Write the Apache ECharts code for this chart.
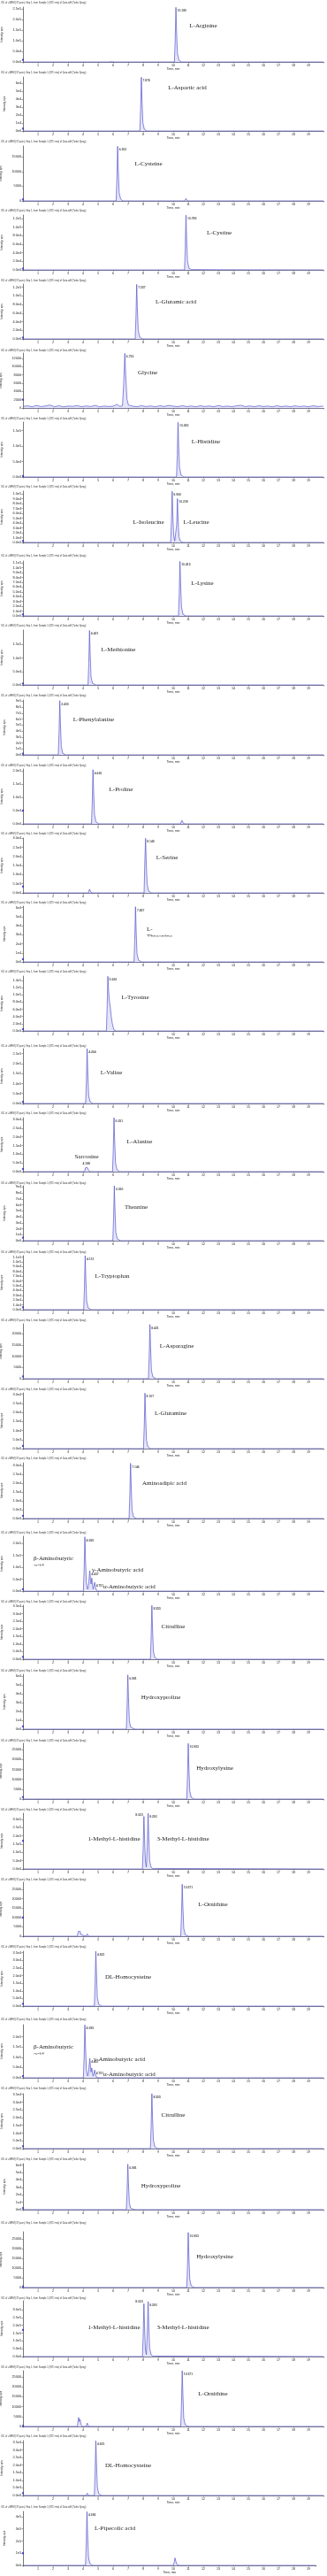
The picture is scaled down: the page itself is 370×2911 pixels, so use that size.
<!DOCTYPE html>
<html>
<head>
<meta charset="utf-8">
<script src="https://cdn.jsdelivr.net/npm/echarts@6/dist/echarts.min.js"></script>
<style>
html, body { margin: 0; padding: 0; background: #fff; }
#chart { width: 370px; height: 2911px; }
</style>
</head>
<body>
<div id="chart"></div>
<script>
// traces: [time (min), intensity (cps)]
const tr01 = [[0,0],[5.7,0],[5.9,1500],[6.1,0],[10.08,0],[10.13,1.0e5],[10.18,2.57e5],[10.22,1.5e5],[10.28,4.0e4],[10.38,8000],[10.55,0],[20,0]];
const tr02 = [[0,0],[7.78,0],[7.83,2.7e4],[7.88,6.75e4],[7.92,4.0e4],[7.98,1.0e4],[8.08,2000],[8.25,0],[20,0]];
const tr03 = [[0,0],[6.2,0],[6.25,7500],[6.3,18600],[6.34,11000],[6.4,2800],[6.5,600],[6.65,0],[10.75,0],[10.85,800],[10.95,0],[20,0]];
const tr04 = [[0,0],[10.75,0],[10.8,5.0e4],[10.85,1.28e5],[10.89,7.5e4],[10.95,2.0e4],[11.05,4000],[11.2,800],[13,300],[20,0]];
const tr05 = [[0,0],[7.47,0],[7.52,5.0e4],[7.57,1.265e5],[7.61,7.5e4],[7.67,2.0e4],[7.77,4000],[7.95,0],[20,0]];
const tr06 = [[0,350],[0.3,520],[0.6,280],[0.9,600],[1.2,330],[1.5,480],[1.8,700],[2.1,300],[2.4,520],[2.7,260],[3.0,450],[3.3,380],[3.6,560],[3.9,300],[4.2,480],[4.5,330],[4.8,600],[5.1,280],[5.4,450],[5.7,350],[6.0,420],[6.26,860],[6.45,380],[6.62,500],[6.7,5500],[6.78,13200],[6.84,7800],[6.92,2200],[7.02,700],[7.3,420],[7.6,300],[7.9,550],[8.2,330],[8.5,480],[8.8,280],[9.1,520],[9.4,350],[9.7,600],[10.0,420],[10.3,300],[10.6,540],[10.9,330],[11.2,460],[11.5,280],[11.8,520],[12.1,350],[12.4,470],[12.7,300],[13.0,560],[13.3,330],[13.6,450],[13.9,290],[14.2,500],[14.5,640],[14.8,320],[15.1,480],[15.4,300],[15.7,520],[16.0,350],[16.3,440],[16.6,280],[16.9,530],[17.2,320],[17.5,460],[17.8,300],[18.1,500],[18.4,340],[18.7,450],[19.0,290],[19.3,520],[19.6,350],[20,400]];
const tr07 = [[0,0],[10.22,0],[10.27,7.0e4],[10.32,1.77e5],[10.36,1.05e5],[10.42,3.0e4],[10.52,6000],[10.7,0],[20,0]];
const tr08 = [[0,0],[9.83,0],[9.88,4.2e4],[9.93,1.05e5],[9.97,6.0e4],[10.03,1.5e4],[10.1,3000],[10.18,2000],[10.23,3.6e4],[10.28,9.0e4],[10.32,5.0e4],[10.38,1.2e4],[10.48,2500],[10.65,0],[20,0]];
const tr09 = [[0,0],[10.35,0],[10.4,4.5e4],[10.45,1.136e5],[10.49,6.8e4],[10.55,1.8e4],[10.65,3500],[10.85,0],[20,0]];
const tr10 = [[0,0],[4.33,0],[4.38,8.0e4],[4.43,2.02e5],[4.47,1.2e5],[4.53,3.0e4],[4.63,6000],[4.85,0],[20,0]];
const tr11 = [[0,0],[2.35,0],[2.4,3.6e5],[2.45,9.1e5],[2.49,5.5e5],[2.55,1.4e5],[2.65,2.5e4],[2.85,0],[20,0]];
const tr12 = [[0,0],[4.56,0],[4.61,8.0e4],[4.66,2.04e5],[4.7,1.25e5],[4.76,3.5e4],[4.86,7000],[5.05,0],[7.05,0],[7.15,1500],[7.25,0],[10.48,0],[10.58,1.3e4],[10.68,2000],[10.8,0],[20,0]];
const tr13 = [[0,0],[3.9,0],[3.95,400],[4.0,0],[4.35,0],[4.43,2000],[4.53,300],[4.65,0],[8.06,0],[8.11,1.7e4],[8.16,3.0e4],[8.2,1.8e4],[8.26,5000],[8.36,1000],[8.55,0],[20,0]];
const tr14 = [[0,0],[7.39,0],[7.44,2.4e4],[7.49,6.1e4],[7.53,3.6e4],[7.59,9000],[7.69,1800],[7.9,0],[20,0]];
const tr15 = [[0,0],[5.55,0],[5.6,6.0e4],[5.65,1.516e5],[5.7,1.1e5],[5.76,8.0e4],[5.81,6.6e4],[5.88,3.8e4],[5.95,2.0e4],[6.05,3000],[6.2,0],[20,0]];
const tr16 = [[0,0],[4.17,0],[4.22,1.1e5],[4.27,2.75e5],[4.31,1.65e5],[4.37,4.0e4],[4.47,8000],[4.65,0],[20,0]];
const tr17 = [[0,0],[4.1,0],[4.16,2200],[4.22,3200],[4.28,2400],[4.36,800],[4.48,0],[4.8,0],[4.87,800],[4.94,0],[5.96,0],[6.01,1.2e4],[6.06,3.09e4],[6.1,1.85e4],[6.16,5000],[6.26,1000],[6.45,0],[20,0]];
const tr18 = [[0,0],[5.98,0],[6.03,3.7e4],[6.08,9.2e4],[6.12,5.5e4],[6.18,1.4e4],[6.28,2800],[6.5,0],[9.92,0],[10.0,800],[10.08,0],[20,0]];
const tr19 = [[0,0],[4.04,0],[4.09,4.5e4],[4.14,1.13e5],[4.18,6.8e4],[4.24,1.7e4],[4.34,3500],[4.55,0],[20,0]];
const tr20 = [[0,0],[4.18,0],[4.25,600],[4.32,0],[7.12,0],[7.2,400],[7.28,0],[8.35,0],[8.4,9500],[8.45,24150],[8.49,14500],[8.55,3600],[8.65,800],[8.85,0],[20,0]];
const tr21 = [[0,0],[8.02,0],[8.07,1.2e4],[8.12,3.07e4],[8.16,1.85e4],[8.22,4600],[8.32,900],[8.5,0],[20,0]];
const tr22 = [[0,0],[7.06,0],[7.11,1.25e4],[7.16,3.12e4],[7.2,1.9e4],[7.26,4700],[7.36,900],[7.55,0],[20,0]];
const tr23 = [[0,0],[4.02,0],[4.07,9.0e4],[4.12,2.28e5],[4.16,1.35e5],[4.22,3.5e4],[4.3,8000],[4.36,2.0e4],[4.41,6.0e4],[4.45,8.6e4],[4.49,5.0e4],[4.53,3.0e4],[4.58,5.5e4],[4.62,3.0e4],[4.67,8000],[4.72,2.0e4],[4.77,3.7e4],[4.81,2.0e4],[4.88,4000],[5.0,0],[20,0]];
const tr24 = [[0,0],[5.92,0],[6.0,500],[6.08,0],[8.48,0],[8.53,1.4e4],[8.58,3.54e4],[8.62,2.1e4],[8.68,5300],[8.78,1000],[8.95,0],[20,0]];
const tr25 = [[0,0],[4.2,0],[4.28,1000],[4.36,0],[6.88,0],[6.93,2.5e4],[6.98,6.16e4],[7.02,3.7e4],[7.08,9000],[7.16,2500],[7.25,1500],[7.35,600],[7.5,0],[20,0]];
const tr26 = [[0,0],[10.9,0],[10.95,1.1e4],[11.0,2.82e4],[11.04,1.7e4],[11.1,4200],[11.2,800],[11.4,0],[20,0]];
const tr27 = [[0,0],[7.95,0],[8.0,1.25e5],[8.05,3.18e5],[8.09,1.9e5],[8.15,4.2e4],[8.21,1.1e4],[8.27,1.3e5],[8.33,3.36e5],[8.37,2.0e5],[8.43,5.0e4],[8.53,1.0e4],[8.65,2000],[8.8,3000],[8.9,0],[20,0]];
const tr28 = [[0,0],[3.62,0],[3.68,2500],[3.71,3300],[3.75,1800],[3.8,2600],[3.86,800],[3.95,0],[4.2,0],[4.28,1200],[4.36,0],[8.52,0],[8.6,500],[8.68,0],[10.5,0],[10.55,1.1e4],[10.6,2.77e4],[10.64,1.65e4],[10.7,4200],[10.8,800],[11.0,0],[20,0]];
const tr29 = [[0,0],[4.2,0],[4.28,1000],[4.36,0],[4.75,0],[4.8,1.4e4],[4.85,3.6e4],[4.89,2.2e4],[4.95,5400],[5.05,1000],[5.25,0],[20,0]];
const tr30 = [[0,0],[4.02,0],[4.07,1.0e5],[4.12,2.58e5],[4.16,1.55e5],[4.22,4.0e4],[4.3,9000],[4.36,2.2e4],[4.41,6.5e4],[4.45,9.4e4],[4.49,5.5e4],[4.53,2.8e4],[4.58,4.8e4],[4.62,2.7e4],[4.67,8000],[4.72,2.0e4],[4.77,3.8e4],[4.81,2.1e4],[4.88,4000],[5.0,0],[20,0]];
const tr31 = [[0,0],[5.92,0],[6.0,500],[6.08,0],[8.48,0],[8.53,1.4e4],[8.58,3.54e4],[8.62,2.1e4],[8.68,5300],[8.78,1000],[8.95,0],[9.97,0],[10.05,400],[10.13,0],[20,0]];
const tr32 = [[0,0],[4.2,0],[4.28,800],[4.36,0],[6.88,0],[6.93,2.45e4],[6.98,6.1e4],[7.02,3.65e4],[7.08,9000],[7.16,2200],[7.25,1200],[7.35,500],[7.5,0],[20,0]];
const tr33 = [[0,0],[10.9,0],[10.95,1.1e4],[11.0,2.83e4],[11.04,1.7e4],[11.1,4200],[11.2,800],[11.4,0],[20,0]];
const tr34 = [[0,0],[7.95,0],[8.0,1.35e5],[8.05,3.38e5],[8.09,2.0e5],[8.15,4.5e4],[8.21,1.2e4],[8.27,1.4e5],[8.33,3.52e5],[8.37,2.1e5],[8.43,5.5e4],[8.53,1.1e4],[8.65,2000],[8.8,3000],[8.9,0],[20,0]];
const tr35 = [[0,0],[3.62,0],[3.68,3500],[3.71,4500],[3.75,2500],[3.8,3500],[3.86,1000],[3.95,0],[4.2,0],[4.28,1700],[4.36,0],[8.52,0],[8.6,500],[8.68,0],[10.5,0],[10.55,1.1e4],[10.6,2.81e4],[10.64,1.7e4],[10.7,4200],[10.8,800],[11.0,0],[20,0]];
const tr36 = [[0,0],[4.2,0],[4.28,1500],[4.36,0],[4.75,0],[4.8,1.4e4],[4.85,3.6e4],[4.89,2.2e4],[4.95,5400],[5.05,1000],[5.25,0],[20,0]];
const tr37 = [[0,0],[4.16,0],[4.21,1.75e5],[4.26,4.41e5],[4.3,2.65e5],[4.36,6.6e4],[4.46,1.3e4],[4.65,0],[10.0,0],[10.07,2.5e4],[10.12,6.1e4],[10.17,3.5e4],[10.25,8000],[10.4,0],[19.5,0]];

// apex labels: [time, intensity, retention time text, side]
const pk01 = [[10.18, 2.57e5, '10.180']];
const pk02 = [[7.88, 6.75e4, '7.876']];
const pk03 = [[6.3, 18600, '6.302']];
const pk04 = [[10.85, 1.28e5, '10.789']];
const pk05 = [[7.57, 1.265e5, '7.557']];
const pk06 = [[6.78, 13200, '6.750']];
const pk07 = [[10.32, 1.77e5, '10.282']];
const pk08 = [[9.93, 1.05e5, '9.906'], [10.28, 9.0e4, '10.239']];
const pk09 = [[10.45, 1.136e5, '10.415']];
const pk10 = [[4.43, 2.02e5, '4.421']];
const pk11 = [[2.45, 9.1e5, '2.430']];
const pk12 = [[4.66, 2.04e5, '4.620']];
const pk13 = [[8.16, 3.0e4, '8.149']];
const pk14 = [[7.49, 6.1e4, '7.457']];
const pk15 = [[5.65, 1.516e5, '5.626']];
const pk16 = [[4.27, 2.75e5, '4.264']];
const pk17 = [[6.06, 3.09e4, '6.051'], [4.22, 3200, '4.188', 't']];
const pk18 = [[6.08, 9.2e4, '6.050']];
const pk19 = [[4.14, 1.13e5, '4.113']];
const pk20 = [[8.45, 24150, '8.421']];
const pk21 = [[8.12, 3.07e4, '8.107']];
const pk22 = [[7.16, 3.12e4, '7.146']];
const pk23 = [[4.12, 2.28e5, '4.095'], [4.45, 8.6e4, '4.437'], [4.77, 3.7e4, '4.751']];
const pk24 = [[8.58, 3.54e4, '8.555']];
const pk25 = [[6.98, 6.16e4, '6.981']];
const pk26 = [[11.0, 2.82e4, '10.953']];
const pk27 = [[8.05, 3.18e5, '8.023', 'l'], [8.33, 3.36e5, '8.293']];
const pk28 = [[10.6, 2.77e4, '10.571']];
const pk29 = [[4.85, 3.6e4, '4.821']];
const pk30 = [[4.12, 2.58e5, '4.095'], [4.45, 9.4e4, '4.437'], [4.77, 3.8e4, '4.751']];
const pk31 = [[8.58, 3.54e4, '8.555']];
const pk32 = [[6.98, 6.1e4, '6.981']];
const pk33 = [[11.0, 2.83e4, '10.953']];
const pk34 = [[8.05, 3.38e5, '8.023', 'l'], [8.33, 3.52e5, '8.293']];
const pk35 = [[10.6, 2.81e4, '10.571']];
const pk36 = [[4.85, 3.6e4, '4.821']];
const pk37 = [[4.26, 4.41e5, '4.266']];

// y tick values
const tkA = [0, 5e4, 1e5, 1.5e5, 2e5, 2.5e5];
const tkB = [0, 1e4, 2e4, 3e4, 4e4, 5e4, 6e4];
const tkC = [0, 5000, 10000, 15000];
const tkD = [0, 2e4, 4e4, 6e4, 8e4, 1e5, 1.2e5];
const tkE = [0, 2000, 4000, 6000, 8000, 10000, 12000];
const tkF = [0, 5e4, 1e5, 1.5e5];
const tkG = [0, 1e4, 2e4, 3e4, 4e4, 5e4, 6e4, 7e4, 8e4, 9e4, 1e5];
const tkH = [0, 1e4, 2e4, 3e4, 4e4, 5e4, 6e4, 7e4, 8e4, 9e4, 1e5, 1.1e5];
const tkI = [0, 1e5, 2e5, 3e5, 4e5, 5e5, 6e5, 7e5, 8e5, 9e5];
const tkJ = [0, 5e4, 1e5, 1.5e5, 2e5];
const tkK = [0, 5e3, 1e4, 1.5e4, 2e4, 2.5e4, 3e4];
const tkL = [0, 2e4, 4e4, 6e4, 8e4, 1e5, 1.2e5, 1.4e5];
const tkM = [0, 1e4, 2e4, 3e4, 4e4, 5e4, 6e4, 7e4, 8e4, 9e4];
const tkN = [0, 5000, 10000, 15000, 20000];
const tkO = [0, 5e3, 1e4, 1.5e4, 2e4, 2.5e4, 3e4, 3.5e4];
const tkP = [0, 5000, 10000, 15000, 20000, 25000];
const tkQ = [0, 5e4, 1e5, 1.5e5, 2e5, 2.5e5, 3e5];
const tkR = [0, 1e5, 2e5, 3e5, 4e5];

// trace start markers on the y axis
const startDots = [1e4, 3000, 500, 3000, 3000, 2000, 3000, 3000, 3000, 5000, 2e4, 5e4, 3500, 3000, 5000, 8000, 1500, 5000, 5000, 1000, 1500, 1500, 8000, 1500, 3000, 1000, 1.7e5, 10000, 1500, 8000, 1500, 2000, 500, 1.7e5, 300, 1500, 1e5];

const traces = [tr01, tr02, tr03, tr04, tr05, tr06, tr07, tr08, tr09, tr10, tr11, tr12, tr13, tr14, tr15, tr16, tr17, tr18, tr19, tr20,
  tr21, tr22, tr23, tr24, tr25, tr26, tr27, tr28, tr29, tr30, tr31, tr32, tr33, tr34, tr35, tr36, tr37];
const peaks = [pk01, pk02, pk03, pk04, pk05, pk06, pk07, pk08, pk09, pk10, pk11, pk12, pk13, pk14, pk15, pk16, pk17, pk18, pk19, pk20,
  pk21, pk22, pk23, pk24, pk25, pk26, pk27, pk28, pk29, pk30, pk31, pk32, pk33, pk34, pk35, pk36, pk37];

// panel layout (pixels) and compound names
const layout = [
  {t: 3, top: 8, base: 70, ymax: 2.583e5, tk: tkA, fmt: 'e1', names: [['L-Arginine', 230, 29]]},
  {t: 82, top: 87, base: 148, ymax: 6.78e4, tk: tkB, fmt: 'e0', names: [['L-Aspartic acid', 212, 99]]},
  {t: 160, top: 165, base: 227, ymax: 18712, tk: tkC, fmt: 'n', names: [['L-Cysteine', 168, 185]]},
  {t: 238, top: 243, base: 305, ymax: 1.283e5, tk: tkD, fmt: 'e1', names: [['L-Cystine', 248, 263]]},
  {t: 317, top: 321, base: 383, ymax: 1.272e5, tk: tkD, fmt: 'e1', names: [['L-Glutamic acid', 199, 341]]},
  {t: 396, top: 399, base: 461, ymax: 13286, tk: tkE, fmt: 'n', names: [['Glycine', 167, 421]]},
  {t: 473, top: 477, base: 539, ymax: 1.778e5, tk: tkF, fmt: 'e1', names: [['L-Histidine', 233, 499]]},
  {t: 550, top: 555, base: 613, ymax: 1.055e5, tk: tkG, fmt: 'e1', names: [['L-Isoleucine', 168, 590], ['L-Leucine', 222, 590]]},
  {t: 628, top: 634, base: 696, ymax: 1.142e5, tk: tkH, fmt: 'e1', names: [['L-Lysine', 229, 659]]},
  {t: 707, top: 712, base: 774, ymax: 2.035e5, tk: tkF, fmt: 'e1', names: [['L-Methionine', 134, 734]]},
  {t: 786, top: 791, base: 853, ymax: 9.21e5, tk: tkI, fmt: 'e0', names: [['L-Phenylalanine', 106, 813]]},
  {t: 865, top: 869, base: 931, ymax: 2.067e5, tk: tkJ, fmt: 'e1', names: [['L-Proline', 137, 892]]},
  {t: 942, top: 947, base: 1009, ymax: 3.015e4, tk: tkK, fmt: 'e1', names: [['L-Serine', 189, 969]]},
  {t: 1020, top: 1024, base: 1087, ymax: 6.17e4, tk: tkB, fmt: 'e0', names: [['L-', 166, 1050, 'left'], ['Threonine', 166, 1058, 'left']], clips: [[163, 1058.5, 38, 8]]},
  {t: 1098, top: 1103, base: 1165, ymax: 1.523e5, tk: tkL, fmt: 'e1', names: [['L-Tyrosine', 153, 1127]]},
  {t: 1182, top: 1185, base: 1247, ymax: 2.753e5, tk: tkA, fmt: 'e1', names: [['L-Valine', 126, 1212]]},
  {t: 1258, top: 1263, base: 1324, ymax: 3.1e4, tk: tkK, fmt: 'e1', names: [['L-Alanine', 158, 1290], ['Sarcosine', 98, 1307]]},
  {t: 1337, top: 1340, base: 1402, ymax: 9.21e4, tk: tkM, fmt: 'e0', names: [['Theanine', 154, 1364]]},
  {t: 1415, top: 1419, base: 1480, ymax: 1.13e5, tk: tkH, fmt: 'e1', names: [['L-Tryptophan', 127, 1442]]},
  {t: 1492, top: 1496, base: 1558, ymax: 24457, tk: tkN, fmt: 'n', names: [['L-Asparagine', 200, 1521]]},
  {t: 1570, top: 1574, base: 1637, ymax: 3.083e4, tk: tkK, fmt: 'e1', names: [['L-Glutamine', 193, 1597]]},
  {t: 1648, top: 1653, base: 1716, ymax: 3.15e4, tk: tkK, fmt: 'e1', names: [['Aminoadipic acid', 186, 1676]]},
  {t: 1732, top: 1736, base: 1798, ymax: 2.309e5, tk: tkJ, fmt: 'e1', names: [['β-Aminobutyric', 38, 1761, 'left'], ['acid', 38, 1769, 'left'], ['γ-Aminobutyric acid', 104, 1774, 'left'], ['α-Aminobutyric acid', 117, 1793, 'left']], clips: [[36, 1769.5, 18, 7]]},
  {t: 1810, top: 1814, base: 1875, ymax: 3.558e4, tk: tkO, fmt: 'e1', names: [['Citrulline', 196, 1838]]},
  {t: 1888, top: 1892, base: 1954, ymax: 6.23e4, tk: tkB, fmt: 'e0', names: [['Hydroxyproline', 182, 1918]]},
  {t: 1967, top: 1970, base: 2033, ymax: 28277, tk: tkP, fmt: 'n', names: [['Hydroxylysine', 243, 1998]]},
  {t: 2045, top: 2049, base: 2112, ymax: 3.375e5, tk: tkQ, fmt: 'e1', names: [['1-Methyl-L-histidine', 129, 2078], ['3-Methyl-L-histidine', 207, 2078]]},
  {t: 2124, top: 2127, base: 2188, ymax: 28774, tk: tkP, fmt: 'n', names: [['L-Ornithine', 241, 2152]]},
  {t: 2200, top: 2205, base: 2267, ymax: 3.6e4, tk: tkO, fmt: 'e1', names: [['DL-Homocysteine', 145, 2234]]},
  {t: 2282, top: 2288, base: 2348, ymax: 2.592e5, tk: tkJ, fmt: 'e1', names: [['β-Aminobutyric', 38, 2313, 'left'], ['acid', 38, 2321, 'left'], ['γ-Aminobutyric acid', 106, 2327, 'left'], ['α-Aminobutyric acid', 117, 2344, 'left']], clips: [[36, 2321.5, 18, 7]]},
  {t: 2360, top: 2366, base: 2428, ymax: 3.54e4, tk: tkO, fmt: 'e1', names: [['Citrulline', 196, 2390]]},
  {t: 2440, top: 2445, base: 2497, ymax: 6.18e4, tk: tkB, fmt: 'e0', names: [['Hydroxyproline', 182, 2470]]},
  {t: 2512, top: 2522, base: 2585, ymax: 28636, tk: tkP, fmt: 'n', names: [['Hydroxylysine', 243, 2550]]},
  {t: 2597, top: 2600, base: 2663, ymax: 3.566e5, tk: tkQ, fmt: 'e1', names: [['1-Methyl-L-histidine', 129, 2630], ['3-Methyl-L-histidine', 207, 2630]]},
  {t: 2675, top: 2679, base: 2742, ymax: 28125, tk: tkP, fmt: 'n', names: [['L-Ornithine', 241, 2705]]},
  {t: 2753, top: 2758, base: 2820, ymax: 3.617e4, tk: tkO, fmt: 'e1', names: [['DL-Homocysteine', 145, 2786]]},
  {t: 2833, top: 2838, base: 2899, ymax: 4.436e5, tk: tkR, fmt: 'e0', xmax: 19.5, names: [['L-Pipecolic acid', 130, 2857]]}
];

const titleText = 'XIC of +MRM (37 pairs): Exp 1, from Sample 1 (STD mix) of Data.wiff (Turbo Spray)';
const LINE = '#5656cf';
const fmtTick = {
  e1: v => v === 0 ? '0.0e0' : v.toExponential(1).replace('+', ''),
  e0: v => v.toExponential(0).replace('+', ''),
  n: v => String(v)
};

const chart = echarts.init(document.getElementById('chart'));
const grids = [], xAxes = [], yAxes = [], series = [], graphics = [];

layout.forEach((p, i) => {
  const xmax = p.xmax || 20;
  grids.push({left: 26, top: p.top, width: xmax * 17, height: p.base - p.top, containLabel: false, outerBoundsMode: 'none'});
  xAxes.push({
    type: 'value', gridIndex: i, min: 0, max: xmax, interval: 1,
    name: 'Time, min', nameLocation: 'middle', nameGap: 7,
    nameTextStyle: {fontSize: 3.4, color: '#222', fontFamily: 'Liberation Sans'},
    axisLine: {lineStyle: {color: '#55557a', width: 0.8}},
    axisTick: {length: 1.5, lineStyle: {color: '#555', width: 0.6}},
    minorTick: {show: true, splitNumber: 5, length: 0.8, lineStyle: {color: '#777', width: 0.5}},
    axisLabel: {fontSize: 3.6, margin: 2, color: '#222', fontFamily: 'Liberation Sans',
      formatter: v => (Number.isInteger(v) && v > 0 && v < 20) ? String(v) : ''},
    splitLine: {show: false}
  });
  yAxes.push({
    type: 'value', gridIndex: i, min: 0, max: p.ymax,
    name: 'Intensity, cps', nameLocation: 'middle', nameGap: 19, nameRotate: 90,
    nameTextStyle: {fontSize: 3, color: '#222', fontFamily: 'Liberation Sans'},
    axisLine: {show: true, lineStyle: {color: '#555', width: 0.8}},
    axisTick: {show: true, length: 1.5, customValues: p.tk, lineStyle: {color: '#555', width: 0.6}},
    axisLabel: {fontSize: 3.8, margin: 2, color: '#222', fontFamily: 'Liberation Sans',
      customValues: p.tk, formatter: fmtTick[p.fmt]},
    splitLine: {show: false}
  });
  series.push({
    type: 'line', xAxisIndex: i, yAxisIndex: i, data: traces[i], symbol: 'none',
    lineStyle: {color: LINE, width: 0.7}, areaStyle: {color: 'rgba(150,150,230,0.35)'},
    silent: true, clip: true
  });
  series.push({
    type: 'scatter', xAxisIndex: i, yAxisIndex: i, symbolSize: 0.1, silent: true,
    itemStyle: {color: 'rgba(0,0,0,0)'},
    data: peaks[i].map(pk => {
      const side = pk[3];
      let label = {position: 'right', distance: 1.5, offset: [0, 4]};
      if (side === 'l') label = {position: 'left', distance: 1, offset: [0, -2]};
      if (side === 't') label = {position: 'top', distance: 1.5, offset: [0, 0]};
      return {value: [pk[0], pk[1]], label: Object.assign({show: true, formatter: pk[2], fontSize: 3.4,
        fontWeight: 'bold', color: '#222', fontFamily: 'Liberation Sans'}, label)};
    })
  });
  series.push({
    type: 'scatter', xAxisIndex: i, yAxisIndex: i, symbol: 'rect', symbolSize: 2.2, silent: true,
    itemStyle: {color: '#2a2ac8'}, data: [[0, startDots[i]]]
  });

  graphics.push({type: 'text', x: 1, y: p.t, z: 50,
    style: {text: titleText, fontSize: 2.6, fill: '#333', fontFamily: 'Liberation Sans', verticalAlign: 'middle'}});
  p.names.forEach(n => {
    graphics.push({type: 'text', x: n[1], y: n[2], z: 50,
      style: {text: n[0], fontSize: 7, fill: '#222', fontFamily: 'Liberation Serif',
        align: n[3] || 'center', verticalAlign: 'middle'}});
  });
  (p.clips || []).forEach(c => {
    graphics.push({type: 'rect', z: 60, shape: {x: c[0], y: c[1], width: c[2], height: c[3]}, style: {fill: '#fff'}});
  });
});

chart.setOption({
  animation: false,
  backgroundColor: '#fff',
  grid: grids,
  xAxis: xAxes,
  yAxis: yAxes,
  series: series,
  graphic: graphics
});
window.addEventListener('resize', () => chart.resize());
</script>
</body>
</html>
